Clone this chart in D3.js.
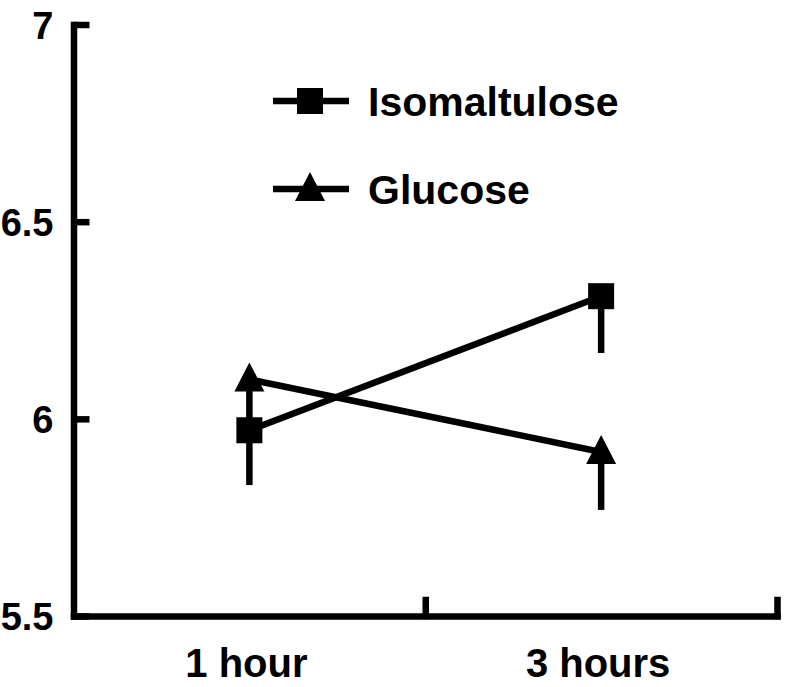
<!DOCTYPE html>
<html lang="en">
<head>
  <meta charset="UTF-8">
  <title>Isomaltulose vs Glucose</title>
  <script src="https://d3js.org/d3.v7.min.js"></script>
  <style>
    body { margin: 0; background: white; }
    svg text { font-family: "Liberation Sans", Arial, sans-serif; font-weight: bold; fill: #000; }
  </style>
</head>
<body>
  <svg width="786" height="687"></svg>
  <script>
    // data
    const times = ["1 hour", "3 hours"];
    const isoMean = [5.971, 6.311];
    const isoErr = [0.139, 0.144];
    const gluMean = [6.100, 5.916];
    const gluErr = [0.14, 0.147];
    const yTicks = [5.5, 6, 6.5, 7];

    const series = [
      { name: "Isomaltulose", mean: isoMean, err: isoErr, shape: "square" },
      { name: "Glucose", mean: gluMean, err: gluErr, shape: "triangle" }
    ];

    const svg = d3.select("svg");
    const plotLeft = 73.5, plotRight = 777, plotTop = 24.5, plotBottom = 616;

    const x = d3.scaleBand().domain(times).range([plotLeft, plotRight]).padding(0);
    const xEdge = d3.scaleLinear().domain([0, times.length]).range([plotLeft, plotRight]);
    const y = d3.scaleLinear().domain([5.5, 7]).range([plotBottom, plotTop]);

    const sw = 6.5;

    // y axis
    const yAxis = svg.append("g")
      .attr("transform", `translate(${plotLeft},0)`)
      .call(d3.axisLeft(y).tickValues(yTicks).tickFormat(d3.format("")).tickSizeInner(-16).tickSizeOuter(0).tickPadding(20));
    yAxis.select(".domain").attr("stroke-width", sw).attr("stroke-linecap", "square");
    yAxis.selectAll(".tick line").attr("stroke-width", sw);
    yAxis.selectAll(".tick text").style("font-size", "38px").attr("dy", "0.36em");

    // x axis line with ticks at band edges
    const xAxis = svg.append("g")
      .attr("transform", `translate(0,${plotBottom})`)
      .call(d3.axisBottom(xEdge).tickValues([1, 2]).tickFormat("").tickSizeInner(-16).tickSizeOuter(0));
    xAxis.select(".domain").attr("stroke-width", sw).attr("stroke-linecap", "square");
    xAxis.selectAll(".tick line").attr("stroke-width", sw).attr("stroke-linecap", "square");

    // category labels
    const xLab = svg.append("g")
      .attr("transform", `translate(-3,${plotBottom})`)
      .call(d3.axisBottom(x).tickSize(0).tickPadding(33));
    xLab.select(".domain").remove();
    xLab.selectAll(".tick text").style("font-size", "40px");

    const tri = "M0,-17L15,12L-15,12Z";
    function drawMarker(g, shape) {
      if (shape === "square") {
        g.append("rect").attr("x", -13).attr("y", -13).attr("width", 26).attr("height", 26).attr("fill", "#000");
      } else {
        g.append("path").attr("d", tri).attr("fill", "#000");
      }
    }

    const line = d3.line()
      .x((d, i) => x(times[i]) + x.bandwidth() / 2)
      .y(d => y(d));

    series.forEach(s => {
      // error bars (downward)
      s.mean.forEach((m, i) => {
        const cx = x(times[i]) + x.bandwidth() / 2;
        svg.append("line")
          .attr("x1", cx).attr("x2", cx)
          .attr("y1", y(m)).attr("y2", y(m - s.err[i]))
          .attr("stroke", "#000").attr("stroke-width", sw);
      });
      svg.append("path")
        .datum(s.mean)
        .attr("d", line)
        .attr("fill", "none")
        .attr("stroke", "#000")
        .attr("stroke-width", sw);
      s.mean.forEach((m, i) => {
        const g = svg.append("g")
          .attr("transform", `translate(${x(times[i]) + x.bandwidth() / 2},${y(m)})`);
        drawMarker(g, s.shape);
      });
    });

    // legend
    const legendY = [101, 189];
    series.forEach((s, i) => {
      const g = svg.append("g").attr("transform", `translate(0,${legendY[i]})`);
      g.append("line").attr("x1", 273).attr("x2", 349).attr("y1", 0).attr("y2", 0)
        .attr("stroke", "#000").attr("stroke-width", sw);
      const m = g.append("g").attr("transform", "translate(310,0)");
      drawMarker(m, s.shape);
      g.append("text").attr("x", 368).attr("y", 15).style("font-size", "41px").text(s.name);
    });
  </script>
</body>
</html>
